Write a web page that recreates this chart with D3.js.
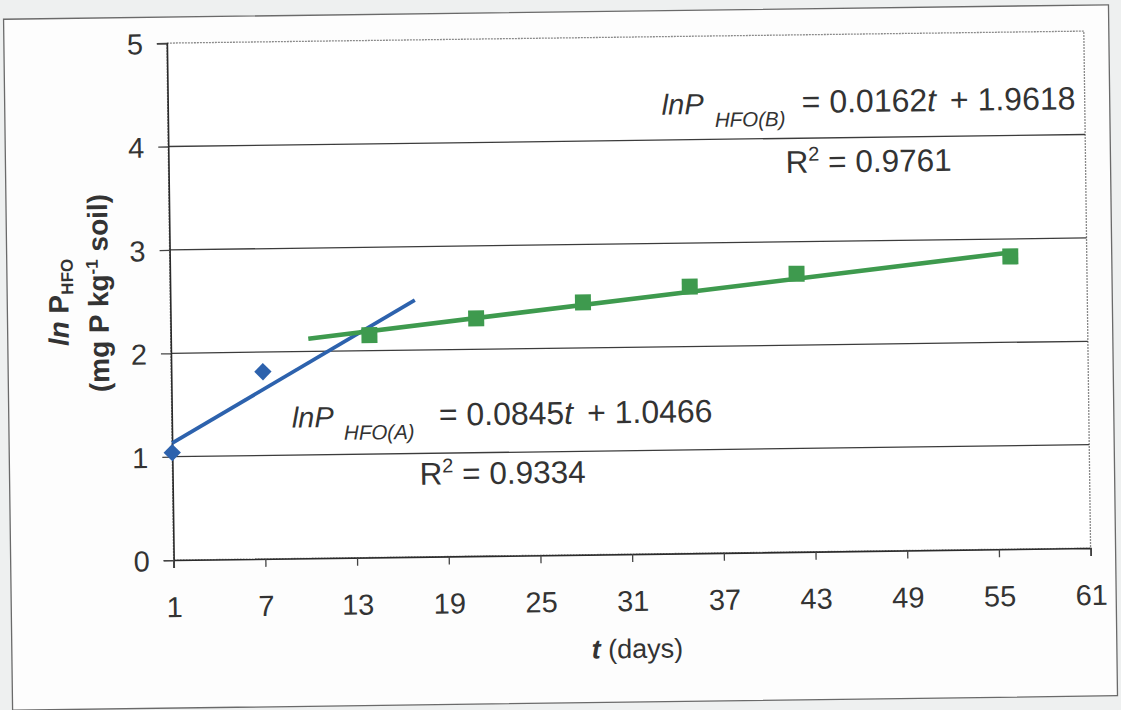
<!DOCTYPE html>
<html>
<head>
<meta charset="utf-8">
<script src="https://cdn.jsdelivr.net/npm/d3@7/dist/d3.min.js"></script>
<style>
  html, body { margin: 0; padding: 0; background: #eef0f0; }
  svg { display: block; }
  text { font-family: "Liberation Sans", Arial, sans-serif; fill: #333; }
</style>
</head>
<body>
<svg id="chart" width="1121" height="710"></svg>
<script>
// ---- data ----
const xTickValues = [1, 7, 13, 19, 25, 31, 37, 43, 49, 55, 61];
const yTickValues = [0, 1, 2, 3, 4, 5];
const daysA = [1, 7];
const lnPA = [1.04, 1.81];
const daysB = [14, 21, 28, 35, 42, 56];
const lnPB = [2.15, 2.30, 2.44, 2.58, 2.69, 2.83];
const fitA = [0.0845, 1.0466];      // slope, intercept
const fitARange = [1, 17];
const fitB = [0.0162, 1.9618];
const fitBRange = [10, 56];
const eqA = ["lnP", "HFO(A)", "= 0.0845", "t", " + 1.0466"];
const eqB = ["lnP", "HFO(B)", "= 0.0162", "t", " + 1.9618"];
const r2A = "0.9334";
const r2B = "0.9761";

// ---- layout ----
const W = 1121, H = 710;
const plot = {left: 171, right: 1088, top: 38, bottom: 555};
const blue = "#2d62ad", green = "#3e9a4e";

const svg = d3.select("#chart");
svg.append("rect").attr("width", W).attr("height", H).attr("fill", "#eef0f0");
const root = svg.append("g").attr("transform", "rotate(-0.75 560 355)");

root.append("rect")
  .attr("x", 8).attr("y", 12).attr("width", 1105).attr("height", 691)
  .attr("fill", "#fdfdfd").attr("stroke", "#6a6a6a").attr("stroke-width", 1.3);

const x = d3.scaleLinear().domain([1, 61]).range([plot.left, plot.right]);
const y = d3.scaleLinear().domain([0, 5]).range([plot.bottom, plot.top]);

// plot area
root.append("rect")
  .attr("x", plot.left).attr("y", plot.top)
  .attr("width", plot.right - plot.left).attr("height", plot.bottom - plot.top)
  .attr("fill", "#ffffff").attr("stroke", "#8a8a8a").attr("stroke-width", 1.3)
  .attr("stroke-dasharray", "2,1");

// gridlines
root.append("g").selectAll("line")
  .data(yTickValues.filter(v => v > 0 && v < 5))
  .join("line")
  .attr("x1", plot.left).attr("x2", plot.right)
  .attr("y1", d => y(d)).attr("y2", d => y(d))
  .attr("stroke", "#3c3c3c").attr("stroke-width", 1.3);

// axes
const xAxis = root.append("g")
  .attr("transform", `translate(0,${plot.bottom})`)
  .call(d3.axisBottom(x).tickValues(xTickValues).tickSize(8).tickPadding(0).tickFormat(d3.format("d")));
xAxis.select(".domain").attr("stroke", "#2a2a2a").attr("stroke-width", 1.6);
xAxis.selectAll(".tick line").attr("stroke", "#444").attr("stroke-width", 1.3);
xAxis.selectAll(".tick text")
  .attr("font-size", 29).attr("y", 57).attr("dy", 0)
  .style("font-family", "'Liberation Sans', Arial, sans-serif").attr("fill", "#333");

const yAxis = root.append("g")
  .attr("transform", `translate(${plot.left},0)`)
  .call(d3.axisLeft(y).tickValues(yTickValues).tickSize(10).tickPadding(0).tickFormat(d3.format("d")));
yAxis.select(".domain").attr("stroke", "#2a2a2a").attr("stroke-width", 1.6);
yAxis.selectAll(".tick line").attr("stroke", "#444").attr("stroke-width", 1.3);
yAxis.selectAll(".tick text")
  .attr("font-size", 29).attr("x", -24).attr("dy", "0.36em")
  .style("font-family", "'Liberation Sans', Arial, sans-serif").attr("fill", "#333");
// extend y axis down to the x tick length
root.append("line").attr("x1", plot.left).attr("x2", plot.left)
  .attr("y1", plot.bottom).attr("y2", plot.bottom + 8)
  .attr("stroke", "#444").attr("stroke-width", 1.3);

// trend lines
const line = d3.line().x(d => x(d[0])).y(d => y(d[1]));
root.append("path")
  .datum(fitARange.map(t => [t, fitA[0] * t + fitA[1]]))
  .attr("d", line).attr("stroke", blue).attr("stroke-width", 3.8).attr("fill", "none");
root.append("path")
  .datum(fitBRange.map(t => [t, fitB[0] * t + fitB[1]]))
  .attr("d", line).attr("stroke", green).attr("stroke-width", 4.6).attr("fill", "none");

// markers
root.append("g").selectAll("path")
  .data(daysA.map((t, i) => [t, lnPA[i]]))
  .join("path")
  .attr("d", d3.symbol(d3.symbolSquare, 150)())
  .attr("transform", d => `translate(${x(d[0])},${y(d[1])}) rotate(45)`)
  .attr("fill", blue);
root.append("g").selectAll("path")
  .data(daysB.map((t, i) => [t, lnPB[i]]))
  .join("path")
  .attr("d", d3.symbol(d3.symbolSquare, 256)())
  .attr("transform", d => `translate(${x(d[0])},${y(d[1])})`)
  .attr("fill", green);

// equations
function equation(px, py, parts, subX, eqX) {
  const t = root.append("text").attr("x", px).attr("y", py).attr("font-size", 29);
  t.append("tspan").attr("font-style", "italic").text(parts[0]);
  t.append("tspan").attr("font-style", "italic").attr("font-size", 20.5)
    .attr("x", px + subX).attr("dy", 13).text(parts[1]);
  t.append("tspan").attr("font-size", 32).attr("x", px + eqX).attr("dy", -13).text(parts[2]);
  t.append("tspan").attr("font-size", 32).attr("font-style", "italic").text(parts[3]);
  t.append("tspan").attr("font-size", 32).attr("dx", 5).text(parts[4]);
}
function rsq(px, py, val) {
  const t = root.append("text").attr("x", px).attr("y", py).attr("font-size", 31.5);
  t.append("tspan").text("R");
  t.append("tspan").attr("font-size", 20).attr("dy", -12).text("2");
  t.append("tspan").attr("dy", 12).text(" = " + val);
}
equation(665, 116, eqB, 53, 140);
rsq(788, 176, r2B);
equation(291, 424, eqA, 52, 147);
rsq(418, 483, r2A);

// axis titles
const xt = root.append("text")
  .attr("x", (plot.left + plot.right) / 2 + 4).attr("y", 659)
  .attr("text-anchor", "middle").attr("font-size", 27);
xt.append("tspan").attr("font-weight", "bold").attr("font-style", "italic").text("t");
xt.append("tspan").text(" (days)");

const yt = root.append("g");
const y1 = yt.append("text")
  .attr("transform", `translate(69,296) rotate(-90)`)
  .attr("text-anchor", "middle").attr("font-size", 28).attr("font-weight", "bold");
y1.append("tspan").attr("font-style", "italic").text("ln");
y1.append("tspan").text(" P");
y1.append("tspan").attr("font-size", 17).attr("dy", 5).text("HFO");

const y2 = yt.append("text")
  .attr("transform", `translate(109,287) rotate(-90)`)
  .attr("text-anchor", "middle").attr("font-size", 28).attr("font-weight", "bold");
y2.append("tspan").text("(mg P kg");
y2.append("tspan").attr("font-size", 17).attr("dy", -10).text("-1");
y2.append("tspan").attr("dy", 10).text(" soil)");
</script>
</body>
</html>
